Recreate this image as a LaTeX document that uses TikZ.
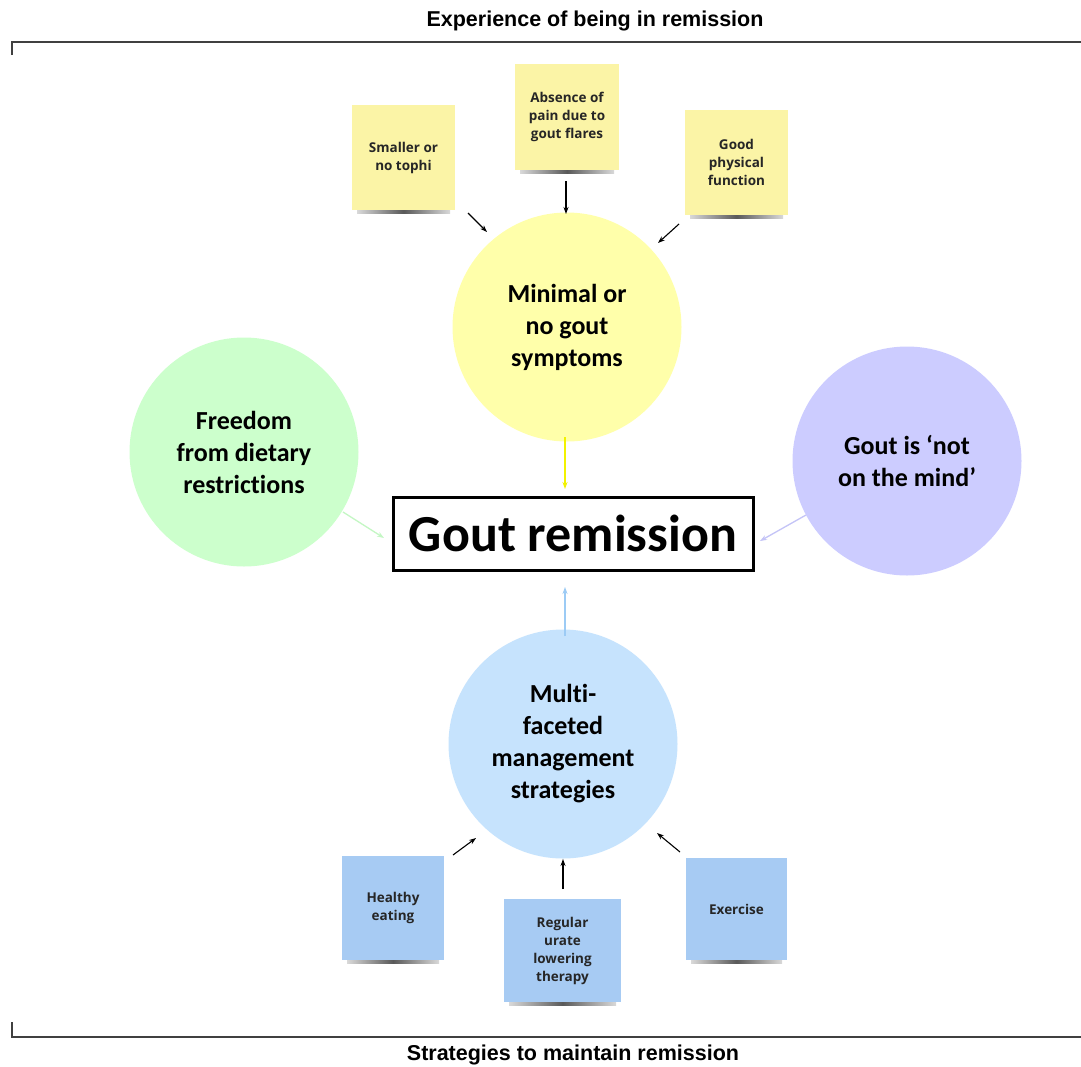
\documentclass[tikz,border=0pt]{standalone}
\usepackage{fontspec}
\setmainfont{Open Sans}
\newfontfamily\carl[Ligatures=NoCommon]{Carlito}
\newfontfamily\arialf{Liberation Sans}
\usetikzlibrary{arrows.meta}
\definecolor{circY}{HTML}{FFFFAA}
\definecolor{circG}{HTML}{CCFFCC}
\definecolor{circP}{HTML}{CCCCFF}
\definecolor{circB}{HTML}{C6E3FD}
\definecolor{noteY}{HTML}{FBF4A6}
\definecolor{noteB}{HTML}{A7CBF3}
\definecolor{arY}{HTML}{F2F200}
\definecolor{arG}{HTML}{C4F7C4}
\definecolor{arP}{HTML}{C4C4F7}
\definecolor{arB}{HTML}{9CCBF5}
\tikzset{
  circ/.style={circle, minimum size=229pt, inner sep=0pt, align=center,
    font=\carl\bfseries\fontsize{26}{32}\selectfont},
  note/.style={rectangle, inner sep=0pt, align=center, text=black!85,
    font=\bfseries\fontsize{13.5}{18}\selectfont},
  title/.style={font=\arialf\bfseries\fontsize{21.5}{24}\selectfont},
  blk/.style={-{Stealth[length=7pt,width=5pt]}, line width=1.1pt, black},
  col/.style={-{Stealth[length=7pt,width=5pt]}, line width=1.3pt},
  shad/.style={left color=black!15, right color=black!15, middle color=black!65},
  brk/.style={line width=1.2pt, black!75}
}
\begin{document}
\begin{tikzpicture}[x=1pt,y=-1pt]
\useasboundingbox[fill=white] (0,0) rectangle (1081,1066);

% titles and brackets
\node[title] (ttop) at (595,21) {Experience of being in remission};
\node[title] (tbot) at (573,1055) {Strategies to maintain remission};
\draw[brk] (12,55) -- (12,42) -- (1081,42);
\draw[brk] (12,1022) -- (12,1037) -- (1081,1037);

% circles
\node[circ, fill=circY] (sym) at (567,327) {Minimal or\\no gout\\symptoms};
\node[circ, fill=circG] (diet) at (244,452) {Freedom\\from dietary\\restrictions};
\node[circ, fill=circP] (mind) at (907,461) {Gout is ‘not\\on the mind’};
\node[circ, fill=circB] (mgmt) at (563,744) {Multi-\\faceted\\management\\strategies};

% central box
\node[draw, line width=3pt, minimum width=360pt, minimum height=73pt, inner sep=0pt,
  font=\carl\bfseries\fontsize{52}{56}\selectfont] (rem) at (573,533.5) {Gout remission};

% sticky notes (shadows first)
\fill[shad] (357,209) rectangle (450,213.5);
\fill[shad] (520,169) rectangle (614,173.5);
\fill[shad] (690,214) rectangle (783,218.5);
\fill[shad] (347,959) rectangle (439,963.5);
\fill[shad] (509,1001) rectangle (616,1005.5);
\fill[shad] (691,959) rectangle (782,963.5);

\node[note, fill=noteY, minimum width=103pt, minimum height=105pt] (n1) at (403.5,157.5) {Smaller or\\no tophi};
\node[note, fill=noteY, minimum width=104pt, minimum height=106pt] (n2) at (567,117) {Absence of\\pain due to\\gout flares};
\node[note, fill=noteY, minimum width=103pt, minimum height=105pt] (n3) at (736.5,162.5) {Good\\physical\\function};
\node[note, fill=noteB, minimum width=102pt, minimum height=104pt] (n4) at (393,908) {Healthy\\eating};
\node[note, fill=noteB, minimum width=117pt, minimum height=103pt] (n5) at (562.5,950.5) {Regular\\urate\\lowering\\therapy};
\node[note, fill=noteB, minimum width=101pt, minimum height=102pt] (n6) at (736.5,909) {Exercise};

% arrow end coordinates
\coordinate (a1s) at (468,213); \coordinate (a1e) at (487,232);
\coordinate (a2s) at (566,181); \coordinate (a2e) at (566,214);
\coordinate (a3s) at (679,224); \coordinate (a3e) at (658,243);
\coordinate (b1s) at (453,855); \coordinate (b1e) at (476,838);
\coordinate (b2s) at (563,889); \coordinate (b2e) at (563,859);
\coordinate (b3s) at (680,852); \coordinate (b3e) at (657,833);
\draw[blk] (a1s) -- (a1e);
\draw[blk] (a2s) -- (a2e);
\draw[blk] (a3s) -- (a3e);
\draw[blk] (b1s) -- (b1e);
\draw[blk] (b2s) -- (b2e);
\draw[blk] (b3s) -- (b3e);

% coloured arrows to the box
\coordinate (cYs) at (565,437); \coordinate (cYe) at (565,489);
\coordinate (cGs) at (343,512); \coordinate (cGe) at (384,538);
\coordinate (cPs) at (806,515); \coordinate (cPe) at (760,541);
\coordinate (cBs) at (565,636); \coordinate (cBe) at (565,587);
\draw[col, arY] (cYs) -- (cYe);
\draw[col, arG] (cGs) -- (cGe);
\draw[col, arP] (cPs) -- (cPe);
\draw[col, arB] (cBs) -- (cBe);
\end{tikzpicture}
\end{document}
